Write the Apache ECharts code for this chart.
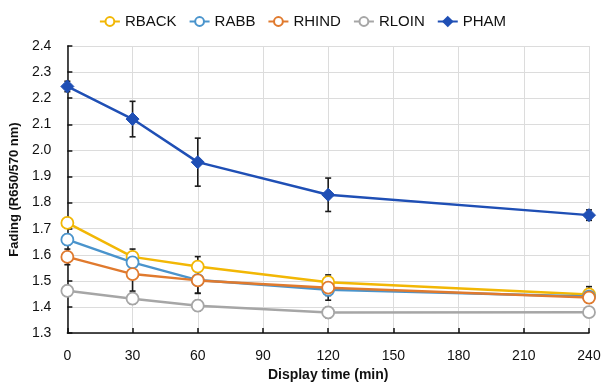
<!DOCTYPE html>
<html>
<head>
<meta charset="utf-8">
<script src="https://cdn.jsdelivr.net/npm/echarts@6/dist/echarts.min.js"></script>
<style>html,body{margin:0;padding:0;background:#fff;}#c{width:605px;height:387px;}</style>
</head>
<body>
<div id="c"></div>
<script>
var times = [0, 30, 60, 120, 240];
var seriesNames = ['RBACK', 'RABB', 'RHIND', 'RLOIN', 'PHAM'];
var RBACK = [1.722, 1.592, 1.555, 1.495, 1.448];
var RABB  = [1.658, 1.571, 1.503, 1.466, 1.440];
var RHIND = [1.592, 1.526, 1.502, 1.474, 1.436];
var RLOIN = [1.462, 1.432, 1.405, 1.379, 1.380];
var PHAM  = [2.245, 2.120, 1.955, 1.830, 1.752];
var errRBACK = [0.02, 0.03, 0.038, 0.028, 0.03];
var errRABB  = [0.02, 0.04, 0.05, 0.04, 0.02];
var errRHIND = [0.03, 0.065, 0.05, 0.03, 0.02];
var errRLOIN = [0.02, 0.02, 0.02, 0.02, 0.015];
var errPHAM  = [0.02, 0.068, 0.092, 0.064, 0.02];
var xTicks = [0, 30, 60, 90, 120, 150, 180, 210, 240];

var values = [RBACK, RABB, RHIND, RLOIN, PHAM];
var errs = [errRBACK, errRABB, errRHIND, errRLOIN, errPHAM];
var colors = ['#f2b705', '#4a94cc', '#e07a2e', '#a6a6a6', '#1f4fb5'];
var FONT = 'Liberation Sans';

var series = [];
values.forEach(function (vals, i) {
  var isPham = i === 4;
  series.push({
    name: seriesNames[i],
    type: 'line',
    data: times.map(function (t, j) { return [t, vals[j]]; }),
    symbol: isPham ? 'diamond' : 'circle',
    symbolSize: isPham ? 13 : 12,
    showAllSymbol: true,
    lineStyle: { color: colors[i], width: 2.5 },
    itemStyle: isPham ? { color: colors[i], borderColor: colors[i], borderWidth: 1 }
                      : { color: '#ffffff', borderColor: colors[i], borderWidth: 1.8 },
    emphasis: { disabled: true },
    z: 3 + i,
    animation: false
  });
});
values.forEach(function (vals, i) {
  series.push({
    type: 'custom',
    name: seriesNames[i] + '_err',
    z: 2,
    animation: false,
    silent: true,
    encode: { x: 0, y: [1, 2] },
    data: times.map(function (t, j) { return [t, vals[j] - errs[i][j], vals[j] + errs[i][j]]; }),
    renderItem: function (params, api) {
      var x = api.value(0);
      var lo = api.coord([x, api.value(1)]);
      var hi = api.coord([x, api.value(2)]);
      var w = 3;
      var st = { stroke: '#1a1a1a', lineWidth: 1.6 };
      return {
        type: 'group',
        children: [
          { type: 'line', shape: { x1: lo[0], y1: lo[1], x2: hi[0], y2: hi[1] }, style: st },
          { type: 'line', shape: { x1: lo[0] - w, y1: lo[1], x2: lo[0] + w, y2: lo[1] }, style: st },
          { type: 'line', shape: { x1: hi[0] - w, y1: hi[1], x2: hi[0] + w, y2: hi[1] }, style: st }
        ]
      };
    }
  });
});

var chart = echarts.init(document.getElementById('c'), null, { renderer: 'canvas' });
chart.setOption({
  animation: false,
  backgroundColor: '#ffffff',
  legend: {
    data: seriesNames,
    top: 9,
    left: 'center',
    itemWidth: 20,
    itemHeight: 11,
    itemGap: 12,
    textStyle: { fontFamily: FONT, fontSize: 15, color: '#111' }
  },
  grid: { left: 65, right: 16, top: 46, bottom: 44, containLabel: false },
  xAxis: {
    type: 'value',
    min: 0, max: 240, interval: 30,
    name: 'Display time (min)',
    nameLocation: 'middle',
    nameGap: 34,
    nameTextStyle: { fontFamily: FONT, fontSize: 14, fontWeight: 'bold', color: '#111' },
    axisLine: { show: true, lineStyle: { color: '#111', width: 1.5 } },
    axisTick: { show: true, inside: true, length: 5, lineStyle: { color: '#111', width: 1.5 } },
    axisLabel: { fontFamily: FONT, fontSize: 14, color: '#111', margin: 16 },
    splitLine: { show: true, lineStyle: { color: '#dcdcdc', width: 1 } }
  },
  yAxis: {
    type: 'value',
    min: 1.3, max: 2.4, interval: 0.1,
    name: 'Fading (R650/570 nm)',
    nameLocation: 'middle',
    nameGap: 36,
    nameTextStyle: { fontFamily: FONT, fontSize: 13, fontWeight: 'bold', color: '#111' },
    axisLine: { show: true, lineStyle: { color: '#111', width: 1.5 } },
    axisTick: { show: true, inside: true, length: 5, lineStyle: { color: '#111', width: 1.5 } },
    axisLabel: { fontFamily: FONT, fontSize: 14, color: '#111', margin: 16,
      formatter: function (v) { return v.toFixed(1); } },
    splitLine: { show: true, lineStyle: { color: '#dcdcdc', width: 1 } }
  },
  series: series
});
</script>
</body>
</html>
